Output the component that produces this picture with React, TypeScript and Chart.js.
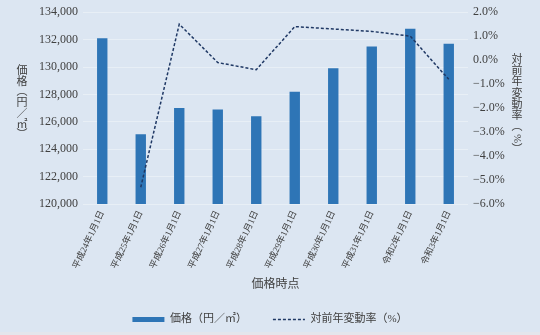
import React, { useEffect, useRef } from "react";
import { Chart, registerables } from "chart.js";

Chart.register(...registerables);

const categories = [
  "平成24年1月1日",
  "平成25年1月1日",
  "平成26年1月1日",
  "平成27年1月1日",
  "平成28年1月1日",
  "平成29年1月1日",
  "平成30年1月1日",
  "平成31年1月1日",
  "令和2年1月1日",
  "令和3年1月1日",
];
const prices = [132100, 125100, 127000, 126900, 126400, 128200, 129900, 131500, 132800, 131700];
const rates: (number | null)[] = [null, -5.3, 1.5, -0.1, -0.4, 1.4, 1.3, 1.2, 1.0, -0.8];

const priceLabel = "価格（円／㎡）";
const rateLabel = "対前年変動率（%）";
const xTitle = "価格時点";
const leftTitleChars = ["価", "格", "︵", "円", "／", "㎡", "︶"];
const rightTitleChars = ["対", "前", "年", "変", "動", "率", "︵", "%", "︶"];

const FONT = "'Liberation Serif', 'Noto Sans CJK JP', serif";
const BG = "#dce6f2";
const TEXT = "#404040";

const verticalTitles = {
  id: "verticalTitles",
  afterDraw(chart: any) {
    const ctx = chart.ctx;
    const area = chart.chartArea;
    ctx.save();
    ctx.fillStyle = TEXT;
    ctx.font = `11px ${FONT}`;
    ctx.textAlign = "center";
    ctx.textBaseline = "middle";
    const drawCol = (chars: string[], x: number, yStart: number, step: number) => {
      chars.forEach((c, i) => {
        const y = yStart + i * step;
        if (c === "%") {
          ctx.save();
          ctx.translate(x, y);
          ctx.rotate(Math.PI / 2);
          ctx.fillText(c, 0, 0);
          ctx.restore();
        } else {
          ctx.fillText(c, x, y);
        }
      });
    };
    drawCol(leftTitleChars, 22, area.top + 59, 10.7);
    drawCol(rightTitleChars, 517, area.top + 48, 11.2);
    ctx.restore();
  },
};

export default function App() {
  const ref = useRef<HTMLCanvasElement>(null);
  useEffect(() => {
    document.body.style.margin = "0";
    const canvas = ref.current!;
    const chart = new Chart(canvas, {
      type: "bar",
      data: {
        labels: categories,
        datasets: [
          {
            type: "line",
            label: rateLabel,
            data: rates,
            yAxisID: "y1",
            borderColor: "#1f3864",
            backgroundColor: "#1f3864",
            borderWidth: 1.5,
            borderDash: [3, 2],
            pointRadius: 0,
            tension: 0,
            spanGaps: false,
            order: 0,
          },
          {
            type: "bar",
            label: priceLabel,
            data: prices,
            yAxisID: "y",
            backgroundColor: "#2e75b6",
            borderWidth: 0,
            categoryPercentage: 1,
            barPercentage: 0.27,
            order: 1,
          },
        ],
      },
      options: {
        responsive: false,
        animation: false,
        layout: { padding: { top: 12, left: 0, right: 0, bottom: -3 } },
        plugins: {
          tooltip: { enabled: false },
          legend: {
            position: "bottom",
            reverse: true,
            labels: {
              usePointStyle: true,
              pointStyleWidth: 32,
              boxHeight: 5,
              padding: 26,
              color: TEXT,
              font: { family: FONT, size: 11 },
              generateLabels(chart: any) {
                const items = Chart.defaults.plugins.legend.labels.generateLabels(chart);
                return items.map((it: any) => {
                  const ds = chart.data.datasets[it.datasetIndex];
                  if (ds.type === "line") {
                    return { ...it, pointStyle: "line", lineWidth: 1.5, lineDash: [3, 2], strokeStyle: "#1f3864" };
                  }
                  return { ...it, pointStyle: "rect", lineWidth: 0, fillStyle: "#2e75b6", strokeStyle: "#2e75b6" };
                });
              },
            },
          },
        },
        scales: {
          x: {
            grid: { display: false, drawTicks: false },
            border: { display: false },
            ticks: {
              color: TEXT,
              font: { family: FONT, size: 9 },
              minRotation: 65,
              maxRotation: 65,
              autoSkip: false,
              padding: 5,
            },
            title: {
              display: true,
              text: xTitle,
              color: TEXT,
              font: { family: FONT, size: 12 },
              padding: { top: 0, bottom: -4 },
            },
            afterFit(scale: any) {
              scale.height = 84;
            },
          },
          y: {
            position: "left",
            min: 120000,
            max: 134000,
            grid: { color: "rgba(255,255,255,0.35)", drawTicks: false },
            border: { display: false },
            ticks: {
              stepSize: 2000,
              padding: 5,
              color: TEXT,
              font: { family: FONT, size: 12 },
              callback: (v: any) => Number(v).toLocaleString("en-US"),
            },
            afterFit(scale: any) {
              scale.width = 83;
            },
          },
          y1: {
            position: "right",
            min: -6,
            max: 2,
            grid: { display: false, drawTicks: false },
            border: { display: false },
            ticks: {
              stepSize: 1,
              padding: 5,
              color: TEXT,
              font: { family: FONT, size: 12 },
              callback: (v: any) => {
                const n = Number(v);
                const s = Math.abs(n).toFixed(1) + "%";
                return n < -0.0001 ? "−" + s : s;
              },
            },
            afterFit(scale: any) {
              scale.width = 72;
            },
          },
        },
      },
      plugins: [verticalTitles],
    });
    return () => chart.destroy();
  }, []);
  return (
    <div style={{ width: 540, height: 335, background: "#e4e6ec" }}>
      <div style={{ width: 540, height: 332, background: BG }}>
        <canvas ref={ref} width={540} height={332} style={{ display: "block" }} />
      </div>
    </div>
  );
}
